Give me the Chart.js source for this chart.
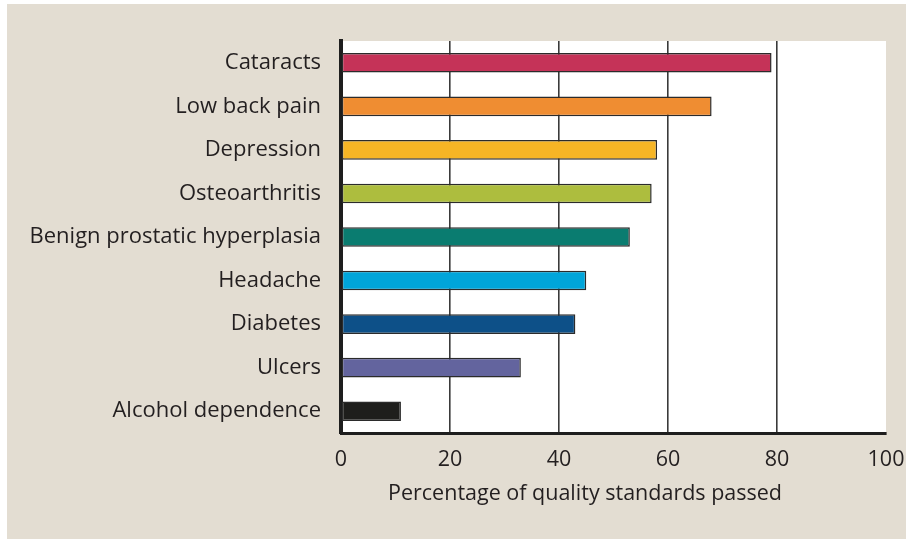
<!DOCTYPE html>
<html>
<head>
<meta charset="utf-8">
<script src="https://cdn.jsdelivr.net/npm/chart.js@4"></script>
<style>
  html, body { margin: 0; padding: 0; background: #ffffff; }
  #wrap { width: 906px; height: 539px; position: relative; }
</style>
</head>
<body>
<div id="wrap"><canvas id="c" width="906" height="539"></canvas></div>
<script>
// Conditions and share of quality standards passed (%)
const conditions = [
  "Cataracts",
  "Low back pain",
  "Depression",
  "Osteoarthritis",
  "Benign prostatic hyperplasia",
  "Headache",
  "Diabetes",
  "Ulcers",
  "Alcohol dependence"
];
const percentPassed = [79, 68, 58, 57, 53, 45, 43, 33, 11];
const barColors = [
  "#c53358", "#ef8d32", "#f6b525", "#adbd3e", "#0a7c70",
  "#00a5da", "#0d5088", "#63649e", "#1e1e1c"
];
const xTicks = [0, 20, 40, 60, 80, 100];
const xTitle = "Percentage of quality standards passed";

const FONT = "'Open Sans', 'Noto Sans', sans-serif";
const INK = "#231f20";
const PANEL = "#e3ddd2";

// Beige panel behind everything, white plot area
const backdrop = {
  id: "backdrop",
  beforeDraw(chart) {
    const { ctx, chartArea: a } = chart;
    ctx.save();
    ctx.fillStyle = PANEL;
    ctx.fillRect(7, 4, chart.width - 7, chart.height - 4);
    ctx.fillStyle = "#ffffff";
    ctx.fillRect(a.left, a.top, a.right - a.left, a.bottom - a.top);
    ctx.restore();
  }
};

// Axis title sits a little left of the plot centre
const axisTitle = {
  id: "axisTitle",
  afterDraw(chart) {
    const { ctx } = chart;
    ctx.save();
    ctx.font = "21.5px " + FONT;
    ctx.fillStyle = INK;
    ctx.textAlign = "center";
    ctx.textBaseline = "middle";
    ctx.fillText(xTitle, 585, 494);
    ctx.restore();
  }
};

new Chart(document.getElementById("c"), {
  type: "bar",
  data: {
    labels: conditions,
    datasets: [{
      data: percentPassed,
      backgroundColor: barColors,
      borderColor: "#2b2b2b",
      borderWidth: 1.5,
      borderSkipped: false,
      barPercentage: 0.45,
      categoryPercentage: 1
    }]
  },
  options: {
    indexAxis: "y",
    responsive: false,
    animation: false,
    layout: { padding: { left: 0, right: 20, top: 41, bottom: 0 } },
    plugins: {
      legend: { display: false },
      tooltip: { enabled: false }
    },
    scales: {
      x: {
        min: 0,
        max: 100,
        afterBuildTicks(scale) {
          scale.ticks = xTicks.map(v => ({ value: v }));
        },
        afterFit(scale) {
          scale.height = 106;
          scale.paddingLeft = 0;
          scale.paddingRight = 0;
        },
        border: { display: true, color: "#1e1e1e", width: 3 },
        grid: {
          drawTicks: false,
          lineWidth: 1.6,
          color: ctx => (ctx.tick && (ctx.tick.value === 0 || ctx.tick.value === 100)) ? "rgba(0,0,0,0)" : "#3a3a3a"
        },
        ticks: {
          padding: 14,
          color: INK,
          font: { family: FONT, size: 21.5 }
        }
      },
      y: {
        afterFit(scale) {
          scale.width = 341;
          scale.paddingTop = 0;
          scale.paddingBottom = 0;
        },
        border: { display: true, color: "#1e1e1e", width: 4 },
        grid: { display: false, drawTicks: false },
        ticks: {
          padding: 20,
          color: INK,
          font: { family: FONT, size: 22 }
        }
      }
    }
  },
  plugins: [backdrop, axisTitle]
});
</script>
</body>
</html>
